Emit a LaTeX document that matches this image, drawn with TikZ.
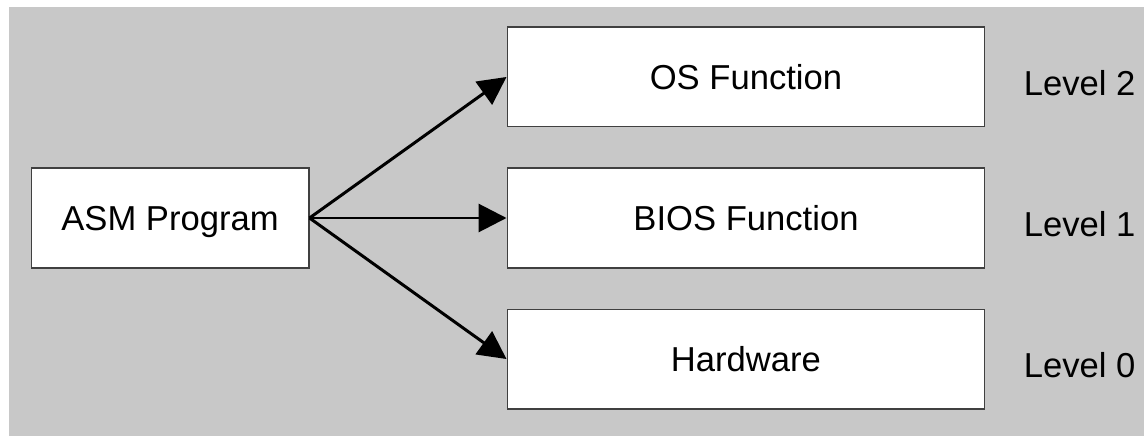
\documentclass[tikz,border=0pt]{standalone}
\usepackage{fontspec}
\setmainfont{Liberation Sans}
\usetikzlibrary{arrows.meta,positioning}
\definecolor{panelgray}{RGB}{200,200,200}
\definecolor{boxline}{RGB}{64,64,64}
\tikzset{
  layerbox/.style={rectangle,draw=boxline,line width=0.6pt,fill=white,
        minimum height=2cm,inner sep=0pt,text depth=0pt},
  levellabel/.style={inner sep=0pt,yshift=-0.12cm},
  callarrow/.style={-{Triangle[length=5.6mm,width=5.6mm]},line width=1.7pt},
}
\begin{document}
\begin{tikzpicture}[x=0.02cm,y=-0.02cm,font=\fontsize{19.7}{24}\selectfont]
  \useasboundingbox (0,0) rectangle (1144,436);
  \fill[panelgray] (9,7) rectangle (1144,436);
  % caller and the three layers
  \node[layerbox,minimum width=5.56cm] (asm) at (170,218) {ASM Program};
  \node[layerbox,minimum width=9.56cm] (bios) at (746,218) {BIOS Function};
  \node[layerbox,minimum width=9.56cm,above=0.8cm of bios] (os) {OS Function};
  \node[layerbox,minimum width=9.56cm,below=0.8cm of bios] (hw) {Hardware};
  \node[levellabel,right=0.76cm of os] (lvltwo) {Level 2};
  \node[levellabel,right=0.76cm of bios] (lvlone) {Level 1};
  \node[levellabel,right=0.76cm of hw] (lvlzero) {Level 0};
  \draw[callarrow] (asm.east) -- (os.west);
  \draw[callarrow] (asm.east) -- (bios.west);
  \draw[callarrow] (asm.east) -- (hw.west);
\end{tikzpicture}
\end{document}
